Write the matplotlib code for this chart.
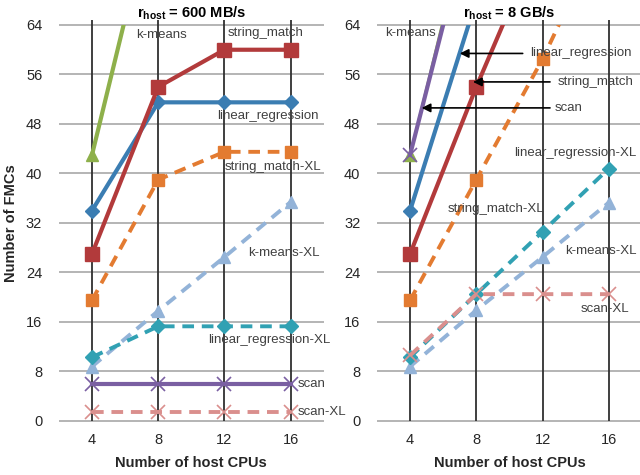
import matplotlib
matplotlib.use('Agg')
import matplotlib.pyplot as plt

plt.rcParams['font.family'] = ['Liberation Sans', 'DejaVu Sans']
plt.rcParams['mathtext.fontset'] = 'custom'
plt.rcParams['mathtext.rm'] = 'Liberation Sans'
plt.rcParams['mathtext.bf'] = 'Liberation Sans:bold'

cpus = [4, 8, 12, 16]
y_ticks = [0, 8, 16, 24, 32, 40, 48, 56, 64]

# r_host = 600 MB/s
slow_kmeans = [43, 87, 87, 87]
slow_string_match = [27, 54, 60, 60]
slow_linreg = [34, 51.5, 51.5, 51.5]
slow_string_match_xl = [19.5, 39, 43.5, 43.5]
slow_kmeans_xl = [8.8, 17.8, 26.5, 35.4]
slow_linreg_xl = [10.3, 15.3, 15.3, 15.3]
slow_scan = [6, 6, 6, 6]
slow_scan_xl = [1.5, 1.5, 1.5, 1.5]

# r_host = 8 GB/s
fast_kmeans = [43, 87, 130, 170]
fast_scan = [43, 85, 128, 168]
fast_linreg = [34, 68, 100, 130]
fast_string_match = [27, 54, 79, 100]
fast_string_match_xl = [19.5, 39, 58.5, 81]
fast_linreg_xl = [10.3, 20.5, 30.6, 40.8]
fast_kmeans_xl = [8.8, 17.9, 26.5, 35.3]
fast_scan_xl = [10.6, 20.5, 20.5, 20.5]

c_green = '#8EB04B'
c_red = '#B23A3B'
c_blue = '#3B7DB2'
c_orange = '#E37B31'
c_lblue = '#93B3D8'
c_teal = '#31A1B3'
c_purple = '#7A5FA2'
c_pink = '#DA8F8D'

txt_col = '#404040'


def style_axes(ax, title):
    ax.set_xlim(2, 18)
    ax.set_ylim(0, 64)
    for s in ax.spines.values():
        s.set_visible(False)
    ax.hlines(y_ticks, 2, 18, color='#A8A8A8', lw=1.2, zorder=0, clip_on=False)
    ax.vlines(cpus, 0, 64.8, color='#303030', lw=1.3, zorder=1, clip_on=False)
    ax.set_xticks(cpus)
    ax.set_yticks(y_ticks)
    ax.tick_params(length=0, labelsize=10.5, colors='#262626')
    ax.tick_params(axis='y', pad=12)
    ax.tick_params(axis='x', pad=9)
    ax.set_xlabel('Number of host CPUs', fontsize=10.5, fontweight='bold', color='#262626', labelpad=6)
    ax.set_title(r'$\mathbf{r_{host}}$ = ' + title, fontsize=10.5, fontweight='bold', pad=5)


def solid(ax, y, color, marker, ms, z=3, mew=1.0, lw=3):
    ax.plot(cpus, y, color=color, lw=lw, marker=marker, ms=ms, mew=mew, zorder=z)


def dashed(ax, y, color, marker, ms, z=3, mew=1.0):
    ax.plot(cpus, y, color=color, lw=2.8, ls=(0, (3, 2)), marker=marker, ms=ms, mew=mew, zorder=z)


fig = plt.figure(figsize=(6.4, 4.75), dpi=100)
ax1 = fig.add_axes([0.092, 0.1137, 0.414, 0.8337])
ax2 = fig.add_axes([0.589, 0.1137, 0.414, 0.8337])

style_axes(ax1, '600 MB/s')
style_axes(ax2, '8 GB/s')

# left panel
solid(ax1, slow_kmeans, c_green, '^', 9)
dashed(ax1, slow_string_match_xl, c_orange, 's', 9)
dashed(ax1, slow_kmeans_xl, c_lblue, '^', 9)
dashed(ax1, slow_linreg_xl, c_teal, 'D', 7)
solid(ax1, slow_linreg, c_blue, 'D', 7)
solid(ax1, slow_string_match, c_red, 's', 10, z=4)
solid(ax1, slow_scan, c_purple, 'x', 10, mew=1.2)
dashed(ax1, slow_scan_xl, c_pink, 'x', 10, mew=1.2)

ax1.set_ylabel('Number of FMCs', fontsize=10.5, fontweight='bold', color='#262626', labelpad=6)

lab = dict(fontsize=9.5, color=txt_col, va='center')
ax1.text(8.2, 62.4, 'k-means', ha='center', **lab)
ax1.text(14.5, 62.7, 'string_match', ha='center', **lab)
ax1.text(14.6, 49.3, 'linear_regression', ha='center', **lab)
ax1.text(14.9, 41.0, 'string_match-XL', ha='center', **lab)
ax1.text(15.6, 27.2, 'k-means-XL', ha='center', **lab)
ax1.text(11.0, 13.1, 'linear_regression-XL', ha='left', **lab)
ax1.text(16.4, 6.0, 'scan', ha='left', **lab)
ax1.text(16.4, 1.5, 'scan-XL', ha='left', **lab)

# right panel
solid(ax2, fast_kmeans, c_green, '^', 9, lw=1.5)
solid(ax2, fast_scan, c_purple, 'x', 10, mew=1.2)
solid(ax2, fast_linreg, c_blue, 'D', 7)
solid(ax2, fast_string_match, c_red, 's', 10)
dashed(ax2, fast_string_match_xl, c_orange, 's', 9)
dashed(ax2, fast_kmeans_xl, c_lblue, '^', 9)
dashed(ax2, fast_linreg_xl, c_teal, 'D', 7)
dashed(ax2, fast_scan_xl, c_pink, 'x', 10, mew=1.2)

ax2.text(4.0, 62.7, 'k-means', ha='center', **lab)
ax2.text(14.3, 59.4, 'linear_regression', ha='center', **lab)
ax2.text(15.2, 54.8, 'string_match', ha='center', **lab)
ax2.text(12.75, 50.6, 'scan', ha='left', **lab)
ax2.text(14.0, 43.3, 'linear_regression-XL', ha='center', **lab)
ax2.text(9.2, 34.2, 'string_match-XL', ha='center', **lab)
ax2.text(15.5, 27.4, 'k-means-XL', ha='center', **lab)
ax2.text(15.75, 18.1, 'scan-XL', ha='center', **lab)

arr = dict(arrowstyle='-|>', color='black', lw=1.2, mutation_scale=13, shrinkA=0, shrinkB=0)
ax2.annotate('', xy=(7.0, 59.4), xytext=(10.8, 59.4), arrowprops=arr, zorder=6)
ax2.annotate('', xy=(7.8, 54.8), xytext=(12.45, 54.8), arrowprops=arr, zorder=6)
ax2.annotate('', xy=(4.7, 50.6), xytext=(12.45, 50.6), arrowprops=arr, zorder=6)

fig.savefig('out.png', dpi=100)
